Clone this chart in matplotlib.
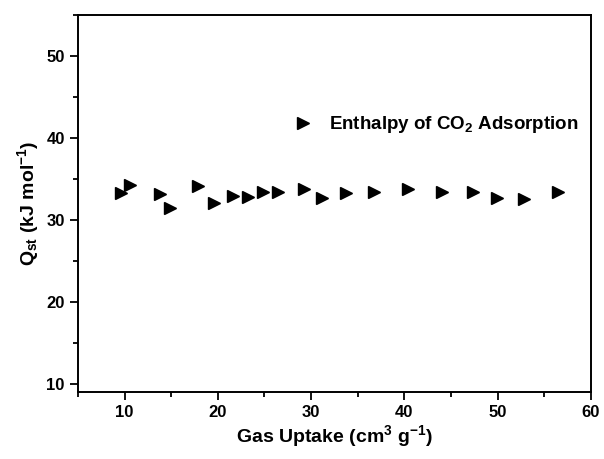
import matplotlib.pyplot as plt
from matplotlib.ticker import MultipleLocator

# =========================
# DATA
# =========================
uptake = [9.65, 10.54, 13.75, 14.86, 17.86, 19.54, 21.61, 23.22, 24.82, 26.5,
          29.19, 31.15, 33.79, 36.72, 40.41, 44.08, 47.3, 49.95, 52.87, 56.48]
qst = [33.34, 34.32, 33.17, 31.43, 34.11, 32.07, 32.98, 32.77, 33.46, 33.38,
       33.83, 32.65, 33.34, 33.41, 33.83, 33.46, 33.46, 32.68, 32.61, 33.41]

# =========================
# STYLE
# =========================
plt.rcParams["font.family"] = "Liberation Sans"
plt.rcParams["font.weight"] = "bold"
plt.rcParams["axes.labelweight"] = "bold"
plt.rcParams["mathtext.fontset"] = "custom"
plt.rcParams["mathtext.rm"] = "Liberation Sans:bold"
plt.rcParams["mathtext.it"] = "Liberation Sans:bold"
plt.rcParams["mathtext.bf"] = "Liberation Sans:bold"
plt.rcParams["mathtext.default"] = "rm"
plt.rcParams["axes.unicode_minus"] = False

fig = plt.figure(figsize=(6.04, 4.59), dpi=100)
ax = fig.add_axes([0.129, 0.146, 0.8495, 0.821])

ax.plot(uptake, qst, linestyle="none", marker=">", markersize=8.5,
        color="black", label=r"Enthalpy of CO$_2$ Adsorption")

ax.set_xlim(5, 60)
ax.set_ylim(9, 55)
ax.xaxis.set_minor_locator(MultipleLocator(5))
ax.yaxis.set_minor_locator(MultipleLocator(5))
ax.set_xticks([10, 20, 30, 40, 50, 60])
ax.set_yticks([10, 20, 30, 40, 50])

ax.tick_params(which="both", direction="out", width=1.3, labelsize=12)
ax.tick_params(which="major", length=6)
ax.tick_params(which="minor", length=3.5)
for s in ax.spines.values():
    s.set_linewidth(1.4)

ax.set_xlabel(r"Gas Uptake (cm$^3$ g$^{-1}$)", fontsize=14, labelpad=2)
ax.set_ylabel(r"Q$_{st}$ (kJ mol$^{-1}$)", fontsize=14, labelpad=4)

ax.legend(loc="upper left", bbox_to_anchor=(0.37, 0.782), frameon=False,
          fontsize=13.5, handletextpad=0.35, markerscale=1.0)

fig.savefig("out.png", dpi=100)
